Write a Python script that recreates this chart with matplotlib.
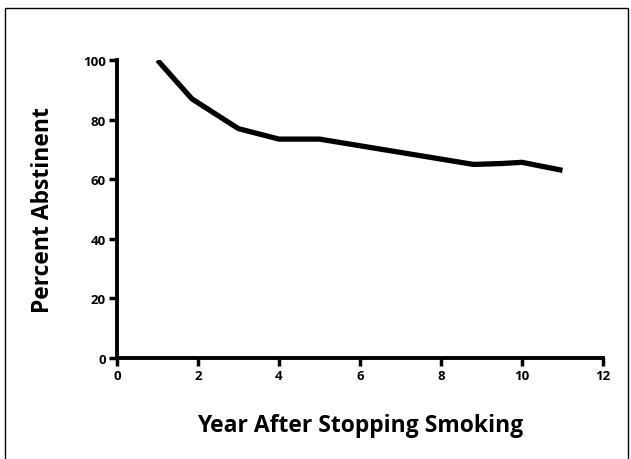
import matplotlib.pyplot as plt
from matplotlib.patches import Rectangle

years = [1, 1.85, 3, 4, 5, 8.8, 9.5, 10, 11]
abstinent = [100, 87, 77, 73.5, 73.5, 65, 65.3, 65.7, 63]
x_ticks = [0, 2, 4, 6, 8, 10, 12]
y_ticks = [0, 20, 40, 60, 80, 100]

plt.rcParams['font.family'] = ['Open Sans', 'DejaVu Sans']

fig = plt.figure(figsize=(6.31, 4.6), dpi=100)
ax = fig.add_axes([0.1854, 0.2196, 0.7702, 0.6474])

ax.plot(years, abstinent, color='black', linewidth=3.8, solid_capstyle='butt')

ax.set_xlim(0, 12)
ax.set_ylim(0, 100)
ax.set_xticks(x_ticks)
ax.set_yticks(y_ticks)
ax.spines['top'].set_visible(False)
ax.spines['right'].set_visible(False)
for s in ['left', 'bottom']:
    ax.spines[s].set_linewidth(2.8)
ax.tick_params(direction='out', length=6, width=2.5, labelsize=9.5, pad=2)
for lab in ax.get_xticklabels() + ax.get_yticklabels():
    lab.set_fontweight('bold')

ax.set_xlabel('Year After Stopping Smoking', fontsize=16.5, fontweight='bold', labelpad=22)
ax.set_ylabel('Percent Abstinent', fontsize=16.5, fontweight='bold', labelpad=20)

# thin frame around the page
fig.patches.append(Rectangle((5 / 631, -0.05), 623 / 631, 1.05 - 9 / 460,
                             transform=fig.transFigure, fill=False,
                             edgecolor='black', linewidth=1.0))

fig.savefig('out.png', dpi=100)
